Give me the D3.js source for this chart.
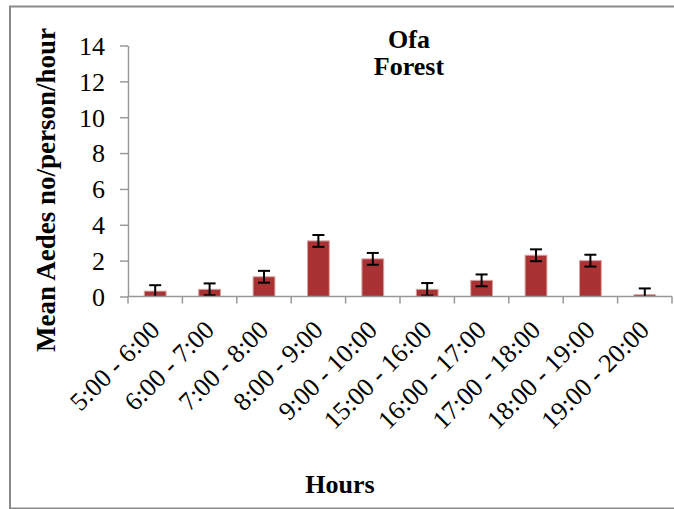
<!DOCTYPE html>
<html>
<head>
<meta charset="utf-8">
<script src="https://cdn.jsdelivr.net/npm/d3@7"></script>
<style>
  html, body { margin: 0; padding: 0; background: #fff; }
  svg { display: block; }
</style>
</head>
<body>
<svg id="chart" width="674" height="509" font-family="'Liberation Serif', 'Times New Roman', serif"></svg>
<script>
// Hourly biting activity of Aedes in the Ofa forest site
const hours = ["5:00 - 6:00", "6:00 - 7:00", "7:00 - 8:00", "8:00 - 9:00", "9:00 - 10:00",
               "15:00 - 16:00", "16:00 - 17:00", "17:00 - 18:00", "18:00 - 19:00", "19:00 - 20:00"];
const meanBites = [0.3, 0.4, 1.1, 3.1, 2.1, 0.4, 0.9, 2.3, 2.0, 0.1];
const errorBars = [0.33, 0.33, 0.33, 0.33, 0.33, 0.35, 0.33, 0.33, 0.33, 0.35];
const yTicks = [0, 2, 4, 6, 8, 10, 12, 14];

const SERIF = "'Liberation Serif', 'Times New Roman', serif";
const svg = d3.select("#chart");

// outer frame
svg.append("rect")
  .attr("x", 10).attr("y", 6.5)
  .attr("width", 680).attr("height", 502)
  .attr("fill", "none").attr("stroke", "#8a8a8a").attr("stroke-width", 2);

const plot = { left: 128, right: 672, top: 45.5, bottom: 296.5 };

const x = d3.scaleBand().domain(hours).range([plot.left, plot.right]).paddingInner(0.6).paddingOuter(0.3);
const y = d3.scaleLinear().domain([0, 14]).range([plot.bottom, plot.top]);

// bars
svg.append("g").selectAll("rect")
  .data(meanBites)
  .join("rect")
  .attr("x", (d, i) => x(hours[i]))
  .attr("y", d => y(d))
  .attr("width", x.bandwidth())
  .attr("height", d => y(0) - y(d))
  .attr("fill", "#a93334")
  .attr("stroke", "#d9a0a0")
  .attr("stroke-width", 1);

// error bars
const eb = svg.append("g").attr("stroke", "#000").attr("stroke-width", 2);
meanBites.forEach((m, i) => {
  const cx = x(hours[i]) + x.bandwidth() / 2;
  const hi = y(m + errorBars[i]);
  const lo = y(Math.max(0, m - errorBars[i]));
  eb.append("line").attr("x1", cx).attr("x2", cx).attr("y1", hi).attr("y2", lo);
  eb.append("line").attr("x1", cx - 6).attr("x2", cx + 6).attr("y1", hi).attr("y2", hi);
  if (m - errorBars[i] > 0) {
    eb.append("line").attr("x1", cx - 6).attr("x2", cx + 6).attr("y1", lo).attr("y2", lo);
  }
});

// y axis
const yAxis = svg.append("g")
  .attr("transform", `translate(${plot.left},0)`)
  .call(d3.axisLeft(y).tickValues(yTicks).tickSize(8).tickSizeOuter(0).tickPadding(15));
yAxis.attr("font-family", SERIF).attr("font-size", 26);
yAxis.select(".domain").attr("stroke", "#999").attr("stroke-width", 1.5);
yAxis.selectAll(".tick line").attr("stroke", "#999").attr("stroke-width", 1.5);
yAxis.selectAll(".tick text").attr("fill", "#000").attr("dy", "0.34em");

// x axis
const xBoundary = d3.scaleLinear().domain([0, hours.length]).range([plot.left, plot.right]);
const xAxis = svg.append("g").attr("transform", `translate(0,${plot.bottom})`);
xAxis.append("line")
  .attr("x1", plot.left).attr("x2", plot.right)
  .attr("stroke", "#999").attr("stroke-width", 1.5);
xAxis.selectAll("line.tk")
  .data(d3.range(hours.length + 1))
  .join("line").attr("class", "tk")
  .attr("x1", d => xBoundary(d)).attr("x2", d => xBoundary(d))
  .attr("y1", 0).attr("y2", 7)
  .attr("stroke", "#999").attr("stroke-width", 1.5);
xAxis.selectAll("text")
  .data(hours)
  .join("text")
  .attr("text-anchor", "end")
  .attr("font-family", SERIF)
  .attr("font-size", 26)
  .attr("transform", d => `translate(${x(d) + x.bandwidth() / 2 + 6},35) rotate(-45)`)
  .text(d => d);

// titles
const bold = (sel, size) => sel.attr("font-family", SERIF).attr("font-weight", "bold")
  .attr("font-size", size).attr("text-anchor", "middle");

bold(svg.append("text").attr("x", 409).attr("y", 48), 26).text("Ofa");
bold(svg.append("text").attr("x", 409).attr("y", 75), 26).text("Forest");

bold(svg.append("text").attr("transform", "translate(55,190) rotate(-90)"), 27)
  .text("Mean Aedes no/person/hour");

bold(svg.append("text").attr("x", 340).attr("y", 493), 26).text("Hours");
</script>
</body>
</html>
